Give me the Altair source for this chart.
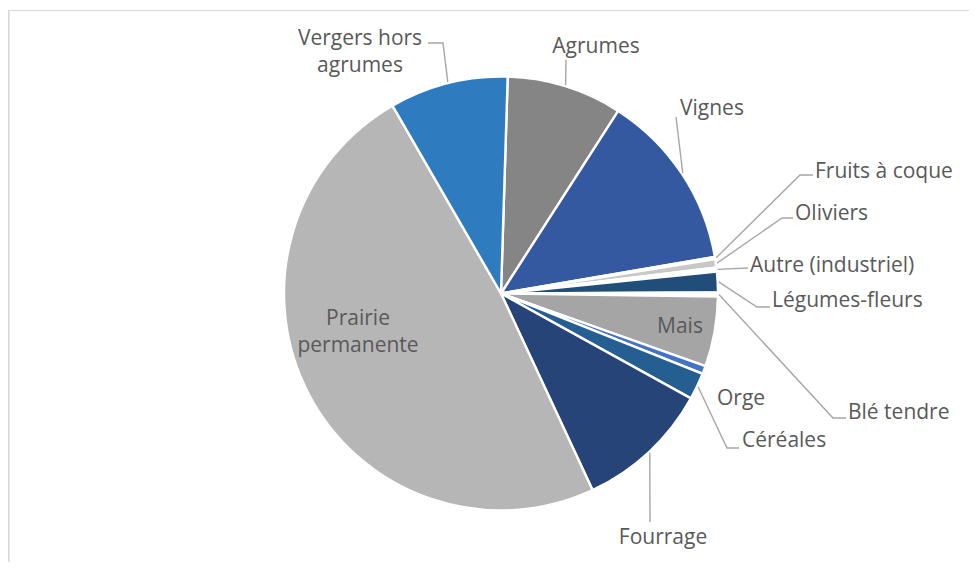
import math
import altair as alt
import pandas as pd

# ---------------- data ----------------
categories = ["Agrumes", "Vignes", "Fruits à coque", "Oliviers", "Autre (industriel)",
              "Légumes-fleurs", "Blé tendre", "Mais", "Orge", "Céréales", "Fourrage",
              "Prairie permanente", "Vergers hors agrumes"]
shares = [8.59, 13.22, 0.17, 0.62, 0.29, 1.54, 0.31, 5.20, 0.60, 2.00, 10.03, 48.60, 8.83]
colors = ["#858585", "#3459a0", "#ffffff", "#c8c8c8", "#ffffff",
          "#204e79", "#ffffff", "#a5a5a5", "#4472c4", "#255e91", "#264478",
          "#b6b6b6", "#2f7bc0"]

# ---------------- layout ----------------
W, H = 961, 554          # fits inside the 977x570 window with its 8px margin
OFF = 8                  # page margin
CX, CY, R = 501 - OFF, 293.5 - OFF, 217
START = math.radians(1.77)
TEXT = "#595959"
LEAD = "#a6a6a6"

# label: category -> (lines, x, first baseline y, align, leader elbow/end points)  (page coords)
label_layout = {
    "Vergers hors agrumes": (["Vergers hors", "agrumes"], 360, 45, "center", [(443, 43), (428, 43)]),
    "Agrumes": (["Agrumes"], 596, 53, "center", [(566, 60)]),
    "Vignes": (["Vignes"], 680, 115, "left", [(676, 117)]),
    "Fruits à coque": (["Fruits à coque"], 815, 178, "left", [(800, 175), (813, 175)]),
    "Oliviers": (["Oliviers"], 795, 220, "left", [(782, 218), (793, 218)]),
    "Autre (industriel)": (["Autre (industriel)"], 750, 272, "left", [(748, 268)]),
    "Légumes-fleurs": (["Légumes-fleurs"], 772, 307, "left", [(757, 307), (770, 307)]),
    "Blé tendre": (["Blé tendre"], 848, 419, "left", [(833, 418), (846, 418)]),
    "Orge": (["Orge"], 717, 405, "left", []),
    "Céréales": (["Céréales"], 742, 447, "left", [(727, 448), (739, 448)]),
    "Fourrage": (["Fourrage"], 663, 544, "center", [(650, 522)]),
    "Mais": (["Mais"], 680, 333, "center", None),
    "Prairie permanente": (["Prairie", "permanente"], 358, 325, "center", None),
}

total = sum(shares)
pie_df = pd.DataFrame({"category": categories, "value": shares, "idx": range(len(categories))})

# leader lines start at the outer edge of each slice's mid angle
line_rows, text_rows = [], []
cum = 0.0
for cat, v in zip(categories, shares):
    mid = START + 2 * math.pi * (cum + v / 2) / total
    cum += v
    lines, lx, ly, align, pts = label_layout[cat]
    if pts:
        sx = CX + (R + 1) * math.sin(mid)
        sy = CY - (R + 1) * math.cos(mid)
        seq = [(sx, sy)] + [(px - OFF, py - OFF) for px, py in pts]
        for k, (px, py) in enumerate(seq):
            line_rows.append({"id": cat, "seq": k, "x": px, "y": py})
    for j, t in enumerate(lines):
        text_rows.append({"text": t, "x": lx - OFF, "y": ly - OFF + j * 27, "align": align})

lines_df = pd.DataFrame(line_rows)
text_df = pd.DataFrame(text_rows)

xs = alt.Scale(domain=[0, W], range=[0, W], nice=False, zero=False)
ys = alt.Scale(domain=[0, H], range=[0, H], nice=False, zero=False)

pie = alt.Chart(pie_df).mark_arc(outerRadius=R, stroke="white", strokeWidth=2.4).encode(
    theta=alt.Theta("value:Q", stack=True, scale=alt.Scale(range=[START, START + 2 * math.pi])),
    color=alt.Color("category:N", scale=alt.Scale(domain=categories, range=colors), legend=None),
    order=alt.Order("idx:Q"),
    x=alt.value(CX),
    y=alt.value(CY),
)

leaders = alt.Chart(lines_df).mark_line(color=LEAD, strokeWidth=1.4).encode(
    x=alt.X("x:Q", scale=xs, axis=None),
    y=alt.Y("y:Q", scale=ys, axis=None),
    detail="id:N",
    order="seq:Q",
)

def text_layer(align):
    return alt.Chart(text_df[text_df["align"] == align]).mark_text(
        align=align, baseline="alphabetic", font="Open Sans", fontSize=21, color=TEXT
    ).encode(
        x=alt.X("x:Q", scale=xs, axis=None),
        y=alt.Y("y:Q", scale=ys, axis=None),
        text="text:N",
    )

border_top = alt.Chart(pie_df).mark_rule(color="#d9d9d9", strokeWidth=1.2).encode(
    x=alt.value(0), x2=alt.value(W), y=alt.value(2.5)
)
border_left = alt.Chart(pie_df).mark_rule(color="#d9d9d9", strokeWidth=1.2).encode(
    x=alt.value(0.5), y=alt.value(2.5), y2=alt.value(H)
)

chart = alt.layer(border_top, border_left, pie, leaders, text_layer("left"), text_layer("center")).properties(
    width=W, height=H, autosize=alt.AutoSizeParams(type="none"), padding=0
).configure_view(stroke=None)

chart.save("out.html", embed_options={"renderer": "svg", "actions": False})
